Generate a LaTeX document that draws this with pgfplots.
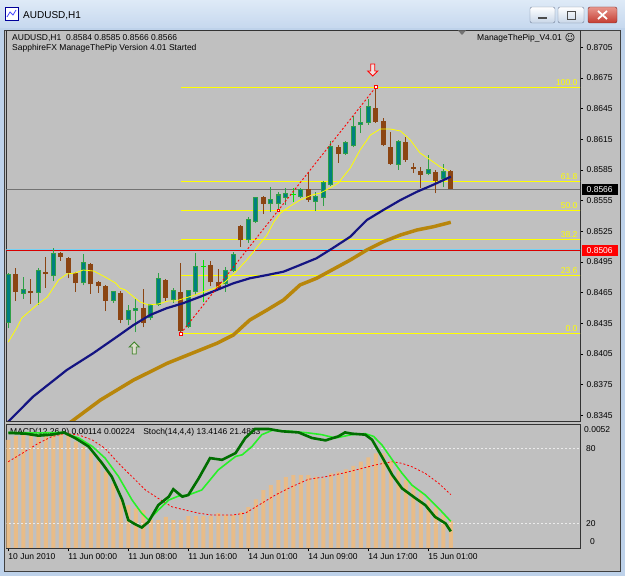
\documentclass[border=0pt]{standalone}
\usepackage{pgfplots}
\pgfplotsset{compat=1.18}
\usepackage{pgfplotstable}
\usepackage{fontspec}
\setmainfont{Liberation Sans}
\newfontfamily\dejavu{DejaVu Sans}
\newcommand\mt{\fontsize{8.5}{10}\selectfont}

\definecolor{chartbg}{RGB}{192,192,192}
\definecolor{frameblue}{RGB}{190,210,234}
\definecolor{bullfill}{RGB}{0,128,128}
\definecolor{bullline}{RGB}{46,160,70}
\definecolor{bearfill}{RGB}{139,69,19}
\definecolor{dojicol}{RGB}{0,230,0}
\definecolor{maNavy}{RGB}{20,20,130}
\definecolor{maGold}{RGB}{184,134,11}
\definecolor{maYellow}{RGB}{255,255,0}
\definecolor{fibline}{RGB}{255,255,0}
\definecolor{histo}{RGB}{232,188,136}
\definecolor{stochMain}{RGB}{0,110,0}
\definecolor{stochSig}{RGB}{40,240,40}
\definecolor{fibtext}{RGB}{255,255,0}

\pgfplotstableread{
i O H L C
0 0.8436 0.8484 0.8430 0.8482
2 0.8465 0.8480 0.8459 0.8468
4 0.8466 0.8489 0.8453 0.8486
6 0.8482 0.8509 0.8476 0.8503
10 0.8475 0.8503 0.8472 0.8494
14 0.8458 0.8467 0.8455 0.8466
16 0.8439 0.8453 0.8433 0.8447
17 0.8448 0.8459 0.8426 0.8449
19 0.8441 0.8453 0.8438 0.8453
20 0.8454 0.8484 0.8452 0.8478
22 0.8459 0.8470 0.8455 0.8467
24 0.8432 0.8467 0.8430 0.8467
25 0.8467 0.8504 0.8463 0.8490
29 0.8474 0.8490 0.8466 0.8486
30 0.8487 0.8505 0.8485 0.8502
32 0.8517 0.8539 0.8514 0.8536
33 0.8535 0.8559 0.8533 0.8558
35 0.8553 0.8568 0.8544 0.8556
36 0.8553 0.8563 0.8546 0.8560
37 0.8559 0.8567 0.8551 0.8561
39 0.8560 0.8567 0.8558 0.8565
41 0.8555 0.8563 0.8545 0.8559
42 0.8559 0.8574 0.8550 0.8572
43 0.8571 0.8613 0.8569 0.8607
45 0.8602 0.8613 0.8600 0.8611
46 0.8609 0.8638 0.8607 0.8627
47 0.8630 0.8646 0.8621 0.8631
48 0.8632 0.8654 0.8629 0.8647
52 0.8591 0.8614 0.8585 0.8612
56 0.8582 0.8600 0.8580 0.8585
58 0.8577 0.8591 0.8568 0.8583
}\bull

\pgfplotstableread{
i O H L C
1 0.8483 0.8489 0.8457 0.8466
3 0.8467 0.8478 0.8454 0.8465
5 0.8485 0.8500 0.8470 0.8483
7 0.8504 0.8505 0.8496 0.8500
8 0.8499 0.8500 0.8479 0.8484
9 0.8484 0.8485 0.8466 0.8474
11 0.8493 0.8494 0.8464 0.8473
12 0.8475 0.8476 0.8465 0.8471
13 0.8471 0.8472 0.8447 0.8457
15 0.8465 0.8467 0.8435 0.8438
18 0.8450 0.8469 0.8431 0.8435
21 0.8477 0.8478 0.8457 0.8460
23 0.8466 0.8494 0.8425 0.8427
27 0.8492 0.8496 0.8471 0.8475
28 0.8475 0.8488 0.8468 0.8470
31 0.8530 0.8531 0.8510 0.8516
34 0.8559 0.8560 0.8542 0.8552
40 0.8566 0.8583 0.8554 0.8556
44 0.8607 0.8609 0.8592 0.8601
49 0.8646 0.8666 0.8631 0.8632
50 0.8633 0.8636 0.8608 0.8609
51 0.8607 0.8622 0.8590 0.8591
53 0.8612 0.8617 0.8593 0.8595
54 0.8588 0.8592 0.8582 0.8586
55 0.8584 0.8588 0.8567 0.8580
57 0.8583 0.8585 0.8562 0.8574
59 0.8584 0.8585 0.8566 0.8566
}\bear

\pgfplotstableread{
i O H L C
26 0.8491 0.8497 0.8456 0.8491
38 0.8561 0.8567 0.8554 0.8561
}\doji

\pgfplotstableread{
i m
0 0.00453
1 0.00470
2 0.00474
3 0.00474
4 0.00474
5 0.00474
6 0.00478
7 0.00482
8 0.00478
9 0.00446
10 0.00425
11 0.00397
12 0.00362
13 0.00320
14 0.00271
15 0.00208
16 0.00180
17 0.00166
18 0.00159
19 0.00117
20 0.00117
21 0.00130
22 0.00117
23 0.00117
24 0.00134
25 0.00134
26 0.00134
27 0.00134
28 0.00146
29 0.00138
30 0.00138
31 0.00152
32 0.00171
33 0.00204
34 0.00243
35 0.00264
36 0.00285
37 0.00297
38 0.00306
39 0.00306
40 0.00306
41 0.00299
42 0.00292
43 0.00313
44 0.00320
45 0.00330
46 0.00344
47 0.00362
48 0.00380
49 0.00397
50 0.00397
51 0.00366
52 0.00327
53 0.00285
54 0.00257
55 0.00229
56 0.00201
57 0.00173
58 0.00140
59 0.00114
}\macd

\pgfplotstableread{
lev
0.866567
0.857371
0.854534
0.851697
0.848175
0.842501
}\fiblevels

\pgfdeclareplotmark{mtup}{%
  \pgfpathmoveto{\pgfqpoint{0pt}{6pt}}%
  \pgfpathlineto{\pgfqpoint{5pt}{1pt}}%
  \pgfpathlineto{\pgfqpoint{2pt}{1pt}}%
  \pgfpathlineto{\pgfqpoint{2pt}{-6pt}}%
  \pgfpathlineto{\pgfqpoint{-2pt}{-6pt}}%
  \pgfpathlineto{\pgfqpoint{-2pt}{1pt}}%
  \pgfpathlineto{\pgfqpoint{-5pt}{1pt}}%
  \pgfpathclose
  \pgfusepathqfillstroke}
\pgfdeclareplotmark{mtdown}{%
  \pgfpathmoveto{\pgfqpoint{0pt}{-6pt}}%
  \pgfpathlineto{\pgfqpoint{5pt}{-1pt}}%
  \pgfpathlineto{\pgfqpoint{2pt}{-1pt}}%
  \pgfpathlineto{\pgfqpoint{2pt}{6pt}}%
  \pgfpathlineto{\pgfqpoint{-2pt}{6pt}}%
  \pgfpathlineto{\pgfqpoint{-2pt}{-1pt}}%
  \pgfpathlineto{\pgfqpoint{-5pt}{-1pt}}%
  \pgfpathclose
  \pgfusepathqfillstroke}

\pgfplotsset{
  wick/.style={draw=none, mark=none, forget plot,
    error bars/.cd, y dir=plus, y explicit, error mark=none,
    error bar style={draw=#1, line width=1pt, line cap=butt, solid}},
  body/.style 2 args={draw=none, mark=none, forget plot,
    error bars/.cd, y dir=plus, y explicit, error mark=none,
    error bar style={draw=#1, line width=#2, line cap=butt, solid}},
}

\begin{document}
\begin{tikzpicture}[x=1pt,y=1pt]
\useasboundingbox (0,0) rectangle (625,576);
% window frame
\fill[frameblue] (0,0) rectangle (625,576);
\shade[top color={rgb,255:red,222;green,234;blue,247}, bottom color={rgb,255:red,198;green,216;blue,238}] (0,548) rectangle (625,576);
\fill[chartbg] (4,5) rectangle (620,546);
\draw[black!75, line width=0.8pt] (4,5) rectangle (620,546);
% title bar content
\fill[white] (5,556) rectangle (18,569);
\draw[blue!60!black, line width=0.6pt] (5,556) rectangle (18,569);
\draw[blue!70, line width=0.8pt] (7,559) -- (10,564) -- (13,561) -- (16,566);
\node[anchor=west, font=\fontsize{10}{12}\selectfont, inner sep=0pt] at (23,560) {AUDUSD,H1};
\shade[rounded corners=2pt, top color=white, bottom color={rgb,255:red,200;green,214;blue,232}, draw={rgb,255:red,110;green,125;blue,150}] (530,553) rectangle (555,569);
\fill[black!70] (538,556.5) rectangle (547,558.5);
\shade[rounded corners=2pt, top color=white, bottom color={rgb,255:red,200;green,214;blue,232}, draw={rgb,255:red,110;green,125;blue,150}] (558,553) rectangle (584,569);
\draw[black!70, line width=0.9pt] (567,557) rectangle (575,565);
\shade[rounded corners=2pt, top color={rgb,255:red,232;green,150;blue,140}, bottom color={rgb,255:red,196;green,60;blue,50}, draw={rgb,255:red,120;green,40;blue,40}] (588,553) rectangle (617,569);
\draw[white, line width=1.8pt] (598,557) -- (607,565) (598,565) -- (607,557);
% lower panel header text (under the lines)
\node[anchor=west, font=\mt, inner sep=0pt] at (10,144) {MACD(12,26,9) 0.00114 0.00224\quad Stoch(14,4,4) 13.4146 21.4833};

% ================= main price panel =================
\begin{axis}[
  at={(6.5pt,155pt)}, anchor=south west, scale only axis,
  width=573.5pt, height=391pt,
  xmin=-0.24, xmax=76.23, ymin=0.833941, ymax=0.872192,
  clip mode=individual,
  axis line style={draw=black!80, line width=0.9pt},
  xtick=\empty,
  ytick={0.8345,0.8375,0.8405,0.8435,0.8465,0.8495,0.8525,0.8555,0.8585,0.8615,0.8645,0.8675,0.8705},
  ytick pos=right, yticklabel pos=right, tick align=outside,
  major tick length=3pt, tick style={black, line width=0.6pt},
  scaled y ticks=false,
  yticklabel style={font=\mt, /pgf/number format/.cd, fixed, fixed zerofill, precision=4, assume math mode=true},
]
% horizontal levels
\addplot[black!55, line width=1pt, forget plot] coordinates {(-1,0.856588) (77,0.856588)};
\addplot[cyan!55!white, line width=1pt, forget plot] coordinates {(-1,0.850719) (77,0.850719)};
\addplot[red!85!black, line width=1pt, forget plot] coordinates {(-1,0.850621) (77,0.850621)};
% fibonacci levels (0.8425 -> 0.8666), horizontal segments from bar 23 to the right edge
\addplot[draw=none, mark=none, forget plot, error bars/.cd, x dir=plus, x explicit, error mark=none,
  error bar style={draw=fibline, line width=1.2pt, line cap=butt, solid}]
  table[x expr=23, y=lev, x error expr=54] {\fiblevels};
% candles: wicks
\addplot[wick=bullline] table[x=i, y=L, y error expr=\thisrow{H}-\thisrow{L}] {\bull};
\addplot[wick=bearfill] table[x=i, y=L, y error expr=\thisrow{H}-\thisrow{L}] {\bear};
\addplot[wick=dojicol] table[x=i, y=L, y error expr=\thisrow{H}-\thisrow{L}] {\doji};
% candles: bodies
\addplot[body={bullline}{5pt}] table[x=i, y expr=\thisrow{O}-0.0001, y error expr=\thisrow{C}-\thisrow{O}+0.0002] {\bull};
\addplot[body={bullfill}{3pt}] table[x=i, y=O, y error expr=\thisrow{C}-\thisrow{O}] {\bull};
\addplot[body={bearfill}{5pt}] table[x=i, y=C, y error expr=\thisrow{O}-\thisrow{C}] {\bear};
\addplot[body={dojicol}{5pt}] table[x=i, y expr=\thisrow{O}-0.00005, y error expr=0.0001] {\doji};
% moving averages
\addplot[maGold, line width=3.5pt, forget plot] coordinates {(7.5,0.83339) (8.7,0.83404) (12.3,0.83600) (16.7,0.83795) (21.2,0.83959) (25.6,0.84089) (27.8,0.84154) (30.0,0.84235) (32.2,0.84382) (34.5,0.84480) (36.7,0.84578) (38.9,0.84725) (41.1,0.84790) (45.6,0.84969) (47.8,0.85067) (50.0,0.85148) (52.3,0.85214) (54.5,0.85263) (56.7,0.85295) (59,0.85338)};
\addplot[maNavy, line width=2.2pt, forget plot] coordinates {(-0.3,0.83366) (0.45,0.83421) (3.3,0.83632) (7.8,0.83893) (11.3,0.84056) (14.5,0.84219) (16.7,0.84333) (18.9,0.84431) (21.1,0.84497) (23.3,0.84546) (25.6,0.84610) (27.8,0.84676) (30.0,0.84741) (32.2,0.84790) (34.5,0.84822) (36.7,0.84855) (38.9,0.84920) (41.1,0.84986) (43.3,0.85087) (45.6,0.85197) (47.8,0.85360) (50.0,0.85458) (52.3,0.85556) (54.5,0.85637) (56.6,0.85703) (59,0.85784)};
\addplot[maYellow, line width=0.8pt, forget plot] coordinates {(0,0.84167) (1.2,0.84314) (1.8,0.84402) (3.8,0.84529) (5.2,0.84607) (6.7,0.84774) (7.8,0.84832) (8.9,0.84842) (10,0.84871) (11.4,0.84861) (12.9,0.84803) (14.3,0.84744) (14.9,0.84695) (15.6,0.84676) (16.9,0.84597) (17.6,0.84558) (18.7,0.84529) (20,0.84539) (21.3,0.84568) (22.3,0.84568) (23.6,0.84597) (24.9,0.84627) (26.3,0.84666) (27.6,0.84695) (28.9,0.84754) (29.6,0.84803) (30.3,0.84852) (31.8,0.84969) (33.2,0.85096) (34.5,0.85214) (35.4,0.85341) (36.3,0.85429) (37.6,0.85497) (38.9,0.85556) (40.5,0.85605) (41.6,0.85624) (42.9,0.85674) (44,0.85722) (45.6,0.85869) (46.9,0.86045) (48.3,0.86192) (49.6,0.86251) (50.9,0.86251) (52.3,0.86231) (53.6,0.86143) (54.9,0.86016) (56.3,0.85947) (57.6,0.85879) (58.7,0.85840)};
% zigzag
\addplot[red, line width=0.9pt, dash pattern=on 2pt off 2pt, mark=square*, mark size=1.4pt, mark options={solid, fill=white, draw=red, line width=0.6pt}, forget plot] coordinates {(23,0.8425) (36,0.85455) (49,0.8666)};
% arrows
\addplot[only marks, mark=mtup, mark options={draw={rgb,255:red,60;green,130;blue,40}, fill={rgb,255:red,222;green,222;blue,205}, line width=0.9pt}, forget plot] coordinates {(16.8,0.84108)};
\addplot[only marks, mark=mtdown, mark options={draw=red, fill={rgb,255:red,240;green,225;blue,225}, line width=0.9pt}, forget plot] coordinates {(48.6,0.86828)};
% fibonacci labels
\node[anchor=south east, inner sep=1.5pt, text=fibtext, font=\mt] at (axis cs:76.1,0.866567) {100.0};
\node[anchor=south east, inner sep=1.5pt, text=fibtext, font=\mt] at (axis cs:76.1,0.857371) {61.8};
\node[anchor=south east, inner sep=1.5pt, text=fibtext, font=\mt] at (axis cs:76.1,0.854534) {50.0};
\node[anchor=south east, inner sep=1.5pt, text=fibtext, font=\mt] at (axis cs:76.1,0.851697) {38.2};
\node[anchor=south east, inner sep=1.5pt, text=fibtext, font=\mt] at (axis cs:76.1,0.848175) {23.6};
\node[anchor=south east, inner sep=1.5pt, text=fibtext, font=\mt] at (axis cs:76.1,0.842501) {0.0};
% price boxes
\node[anchor=west, fill=black, text=white, font=\mt, inner sep=1pt, minimum width=36pt, minimum height=11pt, xshift=1.5pt] at (axis cs:76.23,0.8566) {0.8566};
\node[anchor=west, fill=red, text=white, font=\mt, inner sep=1pt, minimum width=36pt, minimum height=11pt, xshift=1.5pt] at (axis cs:76.23,0.8506) {0.8506};
\end{axis}

% ================= MACD panel =================
\begin{axis}[
  at={(6.5pt,28pt)}, anchor=south west, scale only axis,
  width=573.5pt, height=124pt,
  xmin=-0.24, xmax=76.23, ymin=0, ymax=0.0052,
  clip mode=individual,
  axis line style={draw=black!80, line width=0.9pt},
  ytick=\empty,
  xtick={0,8,16,24,32,40,48,56},
  xticklabels={10 Jun 2010, 11 Jun 00:00, 11 Jun 08:00, 11 Jun 16:00, 14 Jun 01:00, 14 Jun 09:00, 14 Jun 17:00, 15 Jun 01:00},
  xtick pos=left, tick align=outside, major tick length=3.5pt,
  tick style={black, line width=0.6pt},
  xticklabel style={font=\mt, anchor=north west, xshift=-2pt, inner sep=2pt},
]
\addplot[ybar, bar width=4pt, fill=histo, draw=none, forget plot] table[x=i, y=m] {\macd};
\addplot[red, line width=0.8pt, dash pattern=on 2pt off 2pt, forget plot] coordinates {(0,0.00362) (1.8,0.00396) (4.0,0.00439) (5.8,0.00467) (7.6,0.00481) (9.4,0.00474) (11.2,0.00453) (12.9,0.00418) (14.7,0.00355) (16.5,0.00299) (18.3,0.00243) (20.0,0.00208) (21.8,0.00173) (23.6,0.00159) (25.4,0.00146) (27.2,0.00138) (29.8,0.00138) (31.6,0.00146) (33.4,0.00180) (35.6,0.00222) (37.8,0.00257) (40.0,0.00288) (42.3,0.00299) (44.5,0.00313) (46.7,0.00330) (48.9,0.00348) (51.2,0.00362) (52.5,0.00355) (53.8,0.00341) (55.6,0.00313) (57.4,0.00271) (59,0.00224)};
\end{axis}

% ================= Stochastic (same window) =================
\begin{axis}[
  at={(6.5pt,28pt)}, anchor=south west, scale only axis,
  width=573.5pt, height=124pt,
  xmin=-0.24, xmax=76.23, ymin=0, ymax=100,
  clip mode=individual, hide axis,
]
\addplot[white!92!black, line width=1pt, dash pattern=on 2pt off 2pt, forget plot] coordinates {(-1,80.24) (77,80.24)};
\addplot[white!92!black, line width=1pt, dash pattern=on 2pt off 2pt, forget plot] coordinates {(-1,19.76) (77,19.76)};
\addplot[stochSig, line width=1.6pt, forget plot] coordinates {(0,93.2) (4.0,92.8) (7.2,93.2) (9.4,88.7) (11.2,81.9) (12.9,72.5) (14.7,57.6) (16.5,38.7) (17.8,27.9) (18.7,22.5) (20.0,30.6) (21.4,38.7) (22.7,41.9) (24.0,42.7) (25.8,46.8) (28.0,63.0) (30.3,73.8) (31.2,75.2) (32.5,81.9) (33.8,91.4) (35.2,94.9) (37.8,94.1) (40.0,92.8) (41.8,91.4) (43.6,88.7) (45.8,91.4) (47.6,92.2) (48.7,90.0) (49.8,83.3) (51.2,71.1) (52.5,60.3) (53.8,50.8) (55.6,42.7) (57.4,31.9) (59,21.5)};
\addplot[stochMain, line width=2.6pt, forget plot] coordinates {(0,92.8) (2.3,92.2) (4.0,90.6) (5.8,91.4) (7.4,93.2) (8.9,88.7) (10.7,81.9) (12.5,68.4) (13.8,57.5) (15.2,38.7) (16.0,22.5) (16.9,19.2) (17.8,16.5) (18.7,21.1) (20.0,34.6) (21.4,41.4) (22.0,47.4) (23.2,41.4) (24.0,42.7) (25.4,56.3) (26.9,72.5) (28.5,71.1) (30.3,76.5) (31.6,88.7) (32.9,96.0) (34.7,96.0) (36.5,94.1) (38.7,93.2) (40.5,88.7) (42.3,86.8) (44.0,90.0) (44.9,93.2) (45.8,92.2) (47.6,91.4) (48.5,87.3) (49.8,73.8) (51.2,58.9) (52.5,48.1) (54.3,40.1) (55.6,34.6) (56.9,25.1) (58.3,19.8) (59,13.4)};
\node[anchor=west, font=\mt, inner sep=0pt] at (axis cs:76.23,80) {\hspace{6pt}80};
\node[anchor=west, font=\mt, inner sep=0pt] at (axis cs:76.23,20) {\hspace{6pt}20};
\end{axis}
\node[anchor=west, font=\mt, inner sep=0pt] at (584,146) {0.0052};
\node[anchor=west, font=\mt, inner sep=0pt] at (590,34) {0};

% header texts
\node[anchor=west, font=\mt, inner sep=0pt] at (12,538) {AUDUSD,H1\ \ 0.8584 0.8585 0.8566 0.8566};
\node[anchor=west, font=\mt, inner sep=0pt] at (12,528) {SapphireFX ManageThePip Version 4.01 Started};
\node[anchor=east, font=\mt, inner sep=0pt] at (562,538) {ManageThePip\_V4.01};
\node[anchor=center, font=\fontsize{10}{12}\selectfont\dejavu, inner sep=0pt] at (570,538.5) {☺};
\fill[black!55] (458,545.5) -- (466,545.5) -- (462,541) -- cycle;
\end{tikzpicture}
\end{document}
